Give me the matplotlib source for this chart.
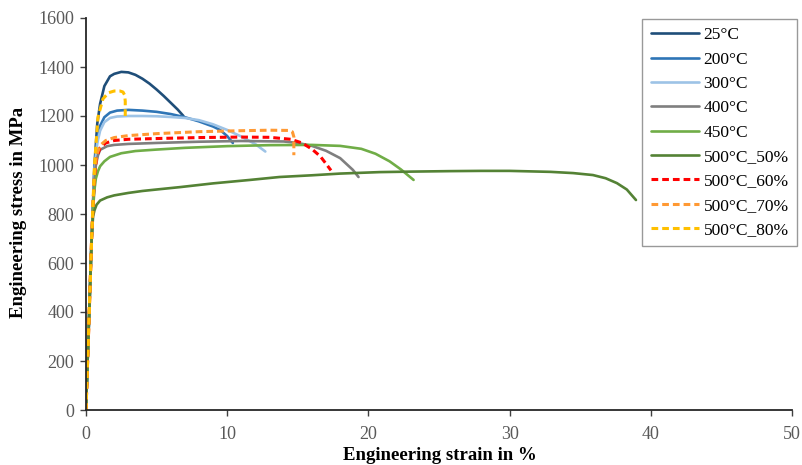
import matplotlib
matplotlib.use("Agg")
import matplotlib.pyplot as plt

# ---------------- data (strain in %, stress in MPa) ----------------
labels = ["25°C", "200°C", "300°C", "400°C", "450°C",
          "500°C_50%", "500°C_60%", "500°C_70%", "500°C_80%"]

strain_25 = [0, 0.2, 0.4, 0.5, 0.6, 0.8, 1.0, 1.3, 1.7, 2.0, 2.5, 3.0, 3.5, 4.0, 4.5, 5.0, 5.5, 6.0, 6.5, 6.9]
stress_25 = [0, 350, 700, 850, 1000, 1170, 1250, 1322, 1362, 1372, 1380, 1378, 1368, 1352, 1332, 1308, 1282, 1254, 1226, 1200]

strain_200 = [0, 0.2, 0.4, 0.5, 0.6, 0.8, 1.0, 1.3, 1.7, 2.2, 3, 4, 5, 6, 7, 8, 9, 9.5, 10, 10.4]
stress_200 = [0, 350, 700, 840, 990, 1110, 1160, 1195, 1214, 1222, 1225, 1222, 1217, 1208, 1195, 1178, 1157, 1143, 1118, 1090]

strain_300 = [0, 0.2, 0.4, 0.5, 0.6, 0.8, 1.0, 1.3, 1.7, 2.2, 3, 4, 5, 6, 7, 8, 9, 10, 11, 12, 12.7]
stress_300 = [0, 350, 700, 840, 980, 1090, 1140, 1175, 1192, 1198, 1200, 1200, 1199, 1196, 1192, 1183, 1166, 1143, 1116, 1085, 1055]

strain_400 = [0, 0.2, 0.4, 0.5, 0.6, 0.7, 0.85, 1.0, 1.5, 2, 3, 5, 8, 11, 14, 15, 16, 17, 18, 18.9, 19.3]
stress_400 = [0, 350, 700, 830, 940, 1000, 1040, 1062, 1077, 1082, 1086, 1090, 1095, 1098, 1096, 1090, 1078, 1058, 1028, 980, 951]

strain_450 = [0, 0.2, 0.4, 0.5, 0.6, 0.7, 0.85, 1.0, 1.3, 1.7, 2.5, 3.5, 5, 7, 10, 13, 16, 18, 19.5, 20.5, 21.5, 22.3, 23.2]
stress_450 = [0, 350, 700, 820, 900, 945, 975, 995, 1015, 1033, 1048, 1057, 1063, 1070, 1077, 1081, 1082, 1078, 1066, 1046, 1015, 982, 939]

strain_500_50 = [0, 0.2, 0.4, 0.5, 0.6, 0.75, 1.0, 1.5, 2, 3, 4, 5, 6.7, 9, 11.6, 13.7, 16, 18, 20.8, 23, 25.8, 28, 30, 32.9, 34.5, 35.9, 36.8, 37.6, 38.3, 38.95]
stress_500_50 = [0, 350, 700, 790, 815, 838, 855, 868, 876, 886, 894, 900, 910, 925, 939, 951, 958, 965, 971, 973, 975, 976, 976, 972, 967, 959, 946, 926, 900, 857]

strain_500_60 = [0, 0.2, 0.4, 0.5, 0.6, 0.75, 1.0, 1.4, 2, 3, 5, 8, 11, 13, 14.5, 15.3, 16, 16.6, 17.0, 17.35]
stress_500_60 = [0, 350, 700, 840, 950, 1030, 1070, 1090, 1100, 1105, 1108, 1112, 1114, 1113, 1105, 1090, 1065, 1035, 1005, 978]

strain_500_70 = [0, 0.2, 0.4, 0.5, 0.6, 0.75, 1.0, 1.4, 2, 3, 5, 8, 11, 13, 14.4, 14.62, 14.72, 14.72]
stress_500_70 = [0, 350, 700, 850, 960, 1040, 1080, 1100, 1112, 1120, 1128, 1136, 1140, 1142, 1141, 1135, 1115, 1040]

strain_500_80 = [0, 0.2, 0.4, 0.5, 0.6, 0.85, 1.2, 1.6, 2.0, 2.4, 2.62, 2.74, 2.78, 2.78]
stress_500_80 = [0, 350, 700, 850, 1000, 1196, 1270, 1295, 1302, 1302, 1298, 1285, 1260, 1190]

strains = [strain_25, strain_200, strain_300, strain_400, strain_450,
           strain_500_50, strain_500_60, strain_500_70, strain_500_80]
stresses = [stress_25, stress_200, stress_300, stress_400, stress_450,
            stress_500_50, stress_500_60, stress_500_70, stress_500_80]

colors = ["#1F4E79", "#2E75B6", "#9DC3E6", "#7F7F7F", "#70AD47",
          "#548235", "#FF0000", "#FF9933", "#FFC000"]
dashed = [False] * 6 + [True] * 3

x_ticks = [0, 10, 20, 30, 40, 50]
y_ticks = [0, 200, 400, 600, 800, 1000, 1200, 1400, 1600]

# ---------------- plot ----------------
plt.rcParams["font.family"] = ["Liberation Serif", "DejaVu Serif"]

fig = plt.figure(figsize=(8.02, 4.65), dpi=100)
ax = fig.add_axes([86 / 802, 1 - 410 / 465, (792 - 86) / 802, (410 - 18) / 465])

for xs, ys, c, d, lab in zip(strains, stresses, colors, dashed, labels):
    if d:
        ax.plot(xs, ys, color=c, lw=2.2, dashes=(2.2, 1.3), label=lab,
                solid_joinstyle="round", dash_capstyle="butt")
    else:
        ax.plot(xs, ys, color=c, lw=1.9, label=lab, solid_joinstyle="round",
                solid_capstyle="round")

ax.set_xlim(0, 50)
ax.set_ylim(0, 1600)
ax.set_xticks(x_ticks)
ax.set_yticks(y_ticks)
ax.tick_params(axis="both", labelsize=13, labelcolor="#595959", color="#404040",
               length=4.5, width=1.0, direction="out")
ax.tick_params(axis="y", pad=4)
ax.tick_params(axis="x", pad=7)

for s in ["top", "right"]:
    ax.spines[s].set_visible(False)
for s in ["left", "bottom"]:
    ax.spines[s].set_color("#262626")
    ax.spines[s].set_linewidth(1.3)

ax.set_ylabel("Engineering stress in MPa", fontsize=13.5, fontweight="bold", va="center")
ax.yaxis.set_label_coords(-0.096, 0.505)
ax.set_xlabel("Engineering strain in %", fontsize=13.5, fontweight="bold", va="center")
ax.xaxis.set_label_coords(0.501, -0.116)

leg = ax.legend(loc="upper right", bbox_to_anchor=(797 / 802, 1 - 19 / 465),
                bbox_transform=fig.transFigure, fontsize=12.5, frameon=True,
                fancybox=False, edgecolor="#808080", handlelength=2.8,
                handletextpad=0.25, labelspacing=0.47, borderpad=0.48,
                borderaxespad=0.0)
leg.get_frame().set_linewidth(1.0)

fig.savefig("out.png", dpi=100)
